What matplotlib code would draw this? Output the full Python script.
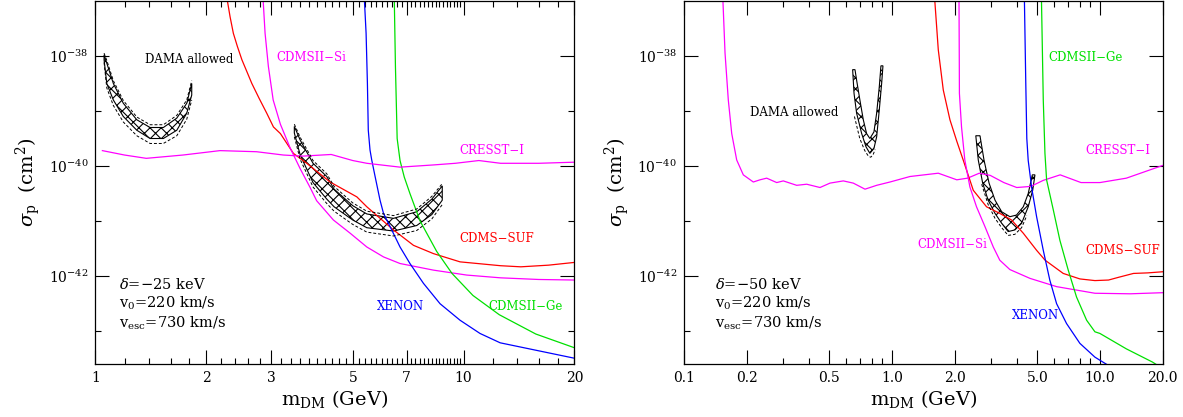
import numpy as np
import matplotlib
matplotlib.use("Agg")
import matplotlib.pyplot as plt

plt.rcParams['font.family'] = ['DejaVu Serif']
plt.rcParams['mathtext.fontset'] = 'dejavuserif'
plt.rcParams['hatch.linewidth'] = 0.8

# ---------------- LEFT PANEL (delta = -25 keV) ----------------
L_suf_x = [2.27, 2.322, 2.37, 2.431, 2.50, 2.577, 2.66, 2.784, 2.92, 3.045, 3.18, 3.45, 3.75, 4.34, 5.13, 5.46, 6.45, 7.31, 8.28, 9.78, 12.6, 14.3, 17.0, 20.0]
L_suf_y = [-36.9, -37.29, -37.59, -37.83, -38.07, -38.28, -38.50, -38.77, -39.04, -39.29, -39.41, -39.77, -39.95, -40.29, -40.56, -40.74, -41.16, -41.44, -41.59, -41.74, -41.81, -41.83, -41.80, -41.75]

L_si_x = [2.85, 2.89, 2.95, 3.04, 3.18, 3.38, 3.60, 3.83, 3.99, 4.43, 4.92, 5.46, 6.06, 6.72, 8.28, 10.2, 12.6, 16.0, 20.0]
L_si_y = [-36.9, -37.59, -38.19, -38.80, -39.24, -39.67, -40.05, -40.39, -40.63, -40.98, -41.22, -41.47, -41.65, -41.77, -41.89, -41.98, -42.03, -42.06, -42.07]

L_xe_x = [5.37, 5.435, 5.48, 5.51, 5.57, 5.63, 5.75, 5.93, 6.06, 6.38, 6.72, 7.15, 7.78, 8.63, 9.78, 11.08, 12.57, 20.0]
L_xe_y = [-36.9, -37.59, -38.50, -39.35, -39.71, -39.89, -40.19, -40.62, -40.86, -41.16, -41.47, -41.77, -42.13, -42.50, -42.80, -43.04, -43.21, -43.49]

L_ge_x = [6.48, 6.53, 6.60, 6.72, 6.90, 7.15, 7.62, 8.45, 9.30, 10.6, 12.5, 15.7, 20.0]
L_ge_y = [-36.9, -38.2, -39.5, -39.9, -40.2, -40.5, -41.0, -41.55, -41.95, -42.35, -42.7, -43.05, -43.30]

L_cr_x = [1.045, 1.2, 1.375, 1.73, 2.18, 2.74, 3.24, 3.65, 4.37, 5.0, 5.46, 6.72, 8.28, 9.5, 11.0, 12.6, 16.0, 20.0]
L_cr_y = [-39.72, -39.80, -39.86, -39.80, -39.72, -39.74, -39.80, -39.82, -39.79, -39.90, -39.95, -40.02, -39.98, -39.95, -39.90, -39.95, -39.95, -39.93]

# DAMA allowed regions (left): x, lower/upper core edges, dashed outer edges
L_d1_x = [1.056, 1.074, 1.119, 1.191, 1.296, 1.408, 1.530, 1.664, 1.771, 1.827]
L_d1_hi = [-37.98, -38.13, -38.50, -38.86, -39.16, -39.30, -39.30, -39.13, -38.86, -38.50]
L_d1_lo = [-38.07, -38.50, -38.80, -39.10, -39.35, -39.50, -39.50, -39.35, -39.04, -38.71]
L_d1_dlo = [-38.12, -38.58, -38.90, -39.20, -39.45, -39.59, -39.59, -39.45, -39.15, -38.80]
L_d1_dhi = [-37.95, -38.08, -38.45, -38.81, -39.11, -39.25, -39.25, -39.08, -38.80, -38.45]

L_d2_x = [3.47, 3.60, 3.90, 4.25, 4.45, 5.00, 5.46, 6.45, 7.46, 8.20, 8.75]
L_d2_hi = [-39.28, -39.53, -39.95, -40.19, -40.42, -40.72, -40.87, -40.95, -40.83, -40.60, -40.36]
L_d2_lo = [-39.40, -39.80, -40.30, -40.60, -40.74, -40.98, -41.12, -41.18, -41.08, -40.88, -40.62]
L_d2_dlo = [-39.47, -39.88, -40.38, -40.68, -40.82, -41.06, -41.20, -41.27, -41.17, -40.96, -40.70]
L_d2_dhi = [-39.24, -39.48, -39.90, -40.14, -40.37, -40.67, -40.82, -40.90, -40.78, -40.55, -40.32]

# ---------------- RIGHT PANEL (delta = -50 keV) ----------------
R_cr_x = [0.1535, 0.1575, 0.1633, 0.1696, 0.1792, 0.1928, 0.2154, 0.2320, 0.2498, 0.2791, 0.3002, 0.3482,
          0.3890, 0.4507, 0.5034, 0.5834, 0.6516, 0.7418, 0.8443, 0.978, 1.221, 1.67, 2.05, 2.31, 2.63,
          2.97, 3.45, 3.98, 4.65, 5.34, 6.44, 8.11, 10.0, 13.4, 20.0]
R_cr_y = [-36.9, -37.95, -38.80, -39.41, -39.89, -40.16, -40.29, -40.25, -40.22, -40.30, -40.27, -40.35,
          -40.33, -40.39, -40.31, -40.27, -40.31, -40.42, -40.35, -40.29, -40.19, -40.13, -40.25, -40.22, -40.13,
          -40.17, -40.30, -40.39, -40.37, -40.26, -40.16, -40.30, -40.30, -40.22, -39.99]

R_suf_x = [1.60, 1.67, 1.765, 1.90, 2.05, 2.20, 2.46, 2.85, 3.30, 3.76, 4.28, 4.96, 5.45, 6.66, 8.01, 9.46, 11.0, 12.3, 14.5, 17.0, 20.0]
R_suf_y = [-36.9, -37.89, -38.62, -39.16, -39.55, -39.89, -40.44, -40.74, -40.86, -40.98, -41.22, -41.53, -41.71, -41.95, -42.05, -42.08, -42.07, -42.02, -41.95, -41.94, -41.92]

R_si_x = [2.10, 2.107, 2.11, 2.16, 2.24, 2.37, 2.55, 2.80, 3.07, 3.30, 3.69, 4.61, 6.19, 9.46, 14.0, 20.0]
R_si_y = [-36.9, -38.07, -38.68, -39.29, -39.89, -40.38, -40.74, -41.10, -41.47, -41.71, -41.88, -42.04, -42.19, -42.31, -42.32, -42.30]

R_xe_x = [4.33, 4.40, 4.45, 4.52, 4.70, 4.96, 5.34, 5.74, 6.19, 6.91, 8.01, 9.46, 11.3]
R_xe_y = [-36.9, -38.5, -39.5, -39.9, -40.4, -40.92, -41.53, -42.07, -42.50, -42.86, -43.22, -43.47, -43.65]

R_ge_x = [5.23, 5.34, 5.44, 5.54, 5.97, 6.42, 7.04, 7.72, 8.63, 9.46, 10.0, 13.4, 17.9, 19.5]
R_ge_y = [-36.9, -38.8, -39.77, -40.25, -40.80, -41.35, -41.89, -42.38, -42.80, -43.01, -43.04, -43.32, -43.56, -43.65]

# DAMA allowed regions (right): outer boundary and inner boundary of the V/U shapes
R_d1_ox = [0.647, 0.657, 0.676, 0.715, 0.750, 0.783, 0.819, 0.844, 0.869, 0.892, 0.905]
R_d1_oy = [-38.25, -38.68, -39.04, -39.41, -39.65, -39.77, -39.68, -39.47, -38.98, -38.50, -38.18]
R_d1_ix = [0.885, 0.869, 0.844, 0.819, 0.783, 0.755, 0.728, 0.701, 0.676, 0.664]
R_d1_iy = [-38.18, -38.56, -39.04, -39.38, -39.50, -39.41, -39.16, -38.80, -38.44, -38.25]
R_d1_dx = [0.66, 0.70, 0.74, 0.77, 0.79, 0.81, 0.83]
R_d1_dy = [-39.10, -39.50, -39.72, -39.82, -39.84, -39.80, -39.70]

R_d2_ox = [2.53, 2.60, 2.73, 2.90, 3.13, 3.37, 3.62, 3.90, 4.20, 4.52, 4.75, 4.87]
R_d2_oy = [-39.45, -39.89, -40.31, -40.62, -40.86, -41.04, -41.19, -41.16, -41.04, -40.74, -40.44, -40.16]
R_d2_ix = [4.73, 4.52, 4.28, 3.97, 3.69, 3.37, 3.13, 2.93, 2.77, 2.65]
R_d2_iy = [-40.16, -40.50, -40.74, -40.89, -40.92, -40.83, -40.62, -40.31, -39.89, -39.45]
R_d2_dx = [2.70, 2.90, 3.13, 3.37, 3.62, 3.90, 4.20, 4.45]
R_d2_dy = [-40.33, -40.70, -40.95, -41.12, -41.26, -41.24, -41.12, -40.90]

RED, MAG, BLUE, GREEN = '#ff0000', '#ff00ff', '#0000ff', '#00e000'

fig = plt.figure(figsize=(11.83, 4.17), dpi=100)
ax1 = fig.add_axes([0.0806, 0.1264, 0.405, 0.8716])
ax2 = fig.add_axes([0.5782, 0.1264, 0.4045, 0.8716])

def p(v):
    return 10.0 ** np.asarray(v)

LW = 0.9

def band(ax, x, lo, hi, dlo, dhi):
    xs = list(x) + list(x[::-1])
    ys = list(lo) + list(hi[::-1])
    ax.fill(xs, p(ys), facecolor='none', edgecolor='k', hatch='xxx', lw=0.8)
    ax.plot(x, p(dlo), color='k', lw=0.7, ls=(0, (3, 2)))
    ax.plot(x, p(dhi), color='k', lw=0.7, ls=(0, (3, 2)))

def vshape(ax, ox, oy, ix, iy, dx, dy):
    xs = list(ox) + list(ix)
    ys = list(oy) + list(iy)
    ax.fill(xs, p(ys), facecolor='none', edgecolor='k', hatch='xxx', lw=0.8)
    ax.plot(dx, p(dy), color='k', lw=0.7, ls=(0, (3, 2)))

# left panel
ax1.plot(L_suf_x, p(L_suf_y), color=RED, lw=LW)
ax1.plot(L_si_x, p(L_si_y), color=MAG, lw=LW)
ax1.plot(L_xe_x, p(L_xe_y), color=BLUE, lw=LW)
ax1.plot(L_ge_x, p(L_ge_y), color=GREEN, lw=LW)
ax1.plot(L_cr_x, p(L_cr_y), color=MAG, lw=LW)
band(ax1, L_d1_x, L_d1_lo, L_d1_hi, L_d1_dlo, L_d1_dhi)
band(ax1, L_d2_x, L_d2_lo, L_d2_hi, L_d2_dlo, L_d2_dhi)

# right panel
ax2.plot(R_cr_x, p(R_cr_y), color=MAG, lw=LW)
ax2.plot(R_suf_x, p(R_suf_y), color=RED, lw=LW)
ax2.plot(R_si_x, p(R_si_y), color=MAG, lw=LW)
ax2.plot(R_xe_x, p(R_xe_y), color=BLUE, lw=LW)
ax2.plot(R_ge_x, p(R_ge_y), color=GREEN, lw=LW)
vshape(ax2, R_d1_ox, R_d1_oy, R_d1_ix, R_d1_iy, R_d1_dx, R_d1_dy)
vshape(ax2, R_d2_ox, R_d2_oy, R_d2_ix, R_d2_iy, R_d2_dx, R_d2_dy)

LFS = 8.5
# labels left
ax1.text(1.365, 10**-38.07, 'DAMA allowed', color='k', fontsize=LFS, va='center', ha='left')
ax1.text(3.11, 10**-38.02, 'CDMSII\u2212Si', color=MAG, fontsize=LFS, va='center', ha='left')
ax1.text(9.73, 10**-39.72, 'CRESST\u2212I', color=MAG, fontsize=LFS, va='center', ha='left')
ax1.text(9.73, 10**-41.32, 'CDMS\u2212SUF', color=RED, fontsize=LFS, va='center', ha='left')
ax1.text(5.82, 10**-42.55, 'XENON', color=BLUE, fontsize=LFS, va='center', ha='left')
ax1.text(11.66, 10**-42.55, 'CDMSII\u2212Ge', color=GREEN, fontsize=LFS, va='center', ha='left')
# labels right
ax2.text(0.2086, 10**-39.03, 'DAMA allowed', color='k', fontsize=LFS, va='center', ha='left')
ax2.text(5.67, 10**-38.02, 'CDMSII\u2212Ge', color=GREEN, fontsize=LFS, va='center', ha='left')
ax2.text(8.53, 10**-39.72, 'CRESST\u2212I', color=MAG, fontsize=LFS, va='center', ha='left')
ax2.text(8.53, 10**-41.54, 'CDMS\u2212SUF', color=RED, fontsize=LFS, va='center', ha='left')
ax2.text(1.329, 10**-41.42, 'CDMSII\u2212Si', color=MAG, fontsize=LFS, va='center', ha='left')
ax2.text(3.76, 10**-42.72, 'XENON', color=BLUE, fontsize=LFS, va='center', ha='left')

PFS = 10.5
for ax, dnum, xf in [(ax1, '25', 0.0486), (ax2, '50', 0.064)]:
    ax.text(xf, 0.2196, r'$\delta$=' + '\u2212' + dnum + ' keV', transform=ax.transAxes, fontsize=PFS, va='center', ha='left')
    ax.text(xf, 0.1675, r'v$_0$=220 km/s', transform=ax.transAxes, fontsize=PFS, va='center', ha='left')
    ax.text(xf, 0.1125, r'v$_{\rm esc}$=730 km/s', transform=ax.transAxes, fontsize=PFS, va='center', ha='left')

# axes, ticks
L_xt = [1, 2, 3, 5, 7, 10, 20]
L_xtl = ['1', '2', '3', '5', '7', '10', '20']
L_xminor = [1.2, 1.4, 1.6, 1.8, 2.2, 2.4, 2.6, 2.8, 3.2, 3.4, 3.6, 3.8, 4, 4.2, 4.4, 4.6, 4.8,
            5.2, 5.4, 5.6, 5.8, 6, 6.2, 6.4, 6.6, 6.8, 7.2, 7.4, 7.6, 7.8, 8, 8.2, 8.4, 8.6, 8.8,
            9, 9.2, 9.4, 9.6, 9.8, 12, 14, 16, 18]
R_xt = [0.1, 0.2, 0.5, 1.0, 2.0, 5.0, 10.0, 20.0]
R_xtl = ['0.1', '0.2', '0.5', '1.0', '2.0', '5.0', '10.0', '20.0']
R_xminor = [0.3, 0.4, 0.6, 0.7, 0.8, 0.9, 3, 4, 6, 7, 8, 9]
Y_t = [1e-38, 1e-40, 1e-42]
Y_tl = [r'$10^{-38}$', r'$10^{-40}$', r'$10^{-42}$']
Y_minor = [1e-39, 1e-41, 1e-43]

for ax, xl, xt, xtl, xmn in [(ax1, (1, 20), L_xt, L_xtl, L_xminor), (ax2, (0.1, 20), R_xt, R_xtl, R_xminor)]:
    ax.set_xscale('log')
    ax.set_yscale('log')
    ax.set_xlim(*xl)
    ax.set_ylim(10**-43.6, 10**-37.0)
    ax.set_xticks(xt)
    ax.set_xticklabels(xtl)
    ax.set_xticks(xmn, minor=True)
    ax.set_xticklabels([], minor=True)
    ax.set_yticks(Y_t)
    ax.set_yticklabels(Y_tl)
    ax.set_yticks(Y_minor, minor=True)
    ax.set_yticklabels([], minor=True)
    ax.tick_params(which='both', direction='in', top=True, right=True, labelsize=10, width=0.8)
    ax.tick_params(which='major', length=10, pad=5)
    ax.tick_params(which='minor', length=4)
    for s in ax.spines.values():
        s.set_linewidth(0.9)
    ax.set_xlabel(r'm$_{\rm DM}$ (GeV)', fontsize=14, labelpad=2)
    ax.set_ylabel(r'$\sigma_{\rm p}$  (cm$^2$)', fontsize=14, labelpad=4)

fig.savefig('out.png', dpi=100)
